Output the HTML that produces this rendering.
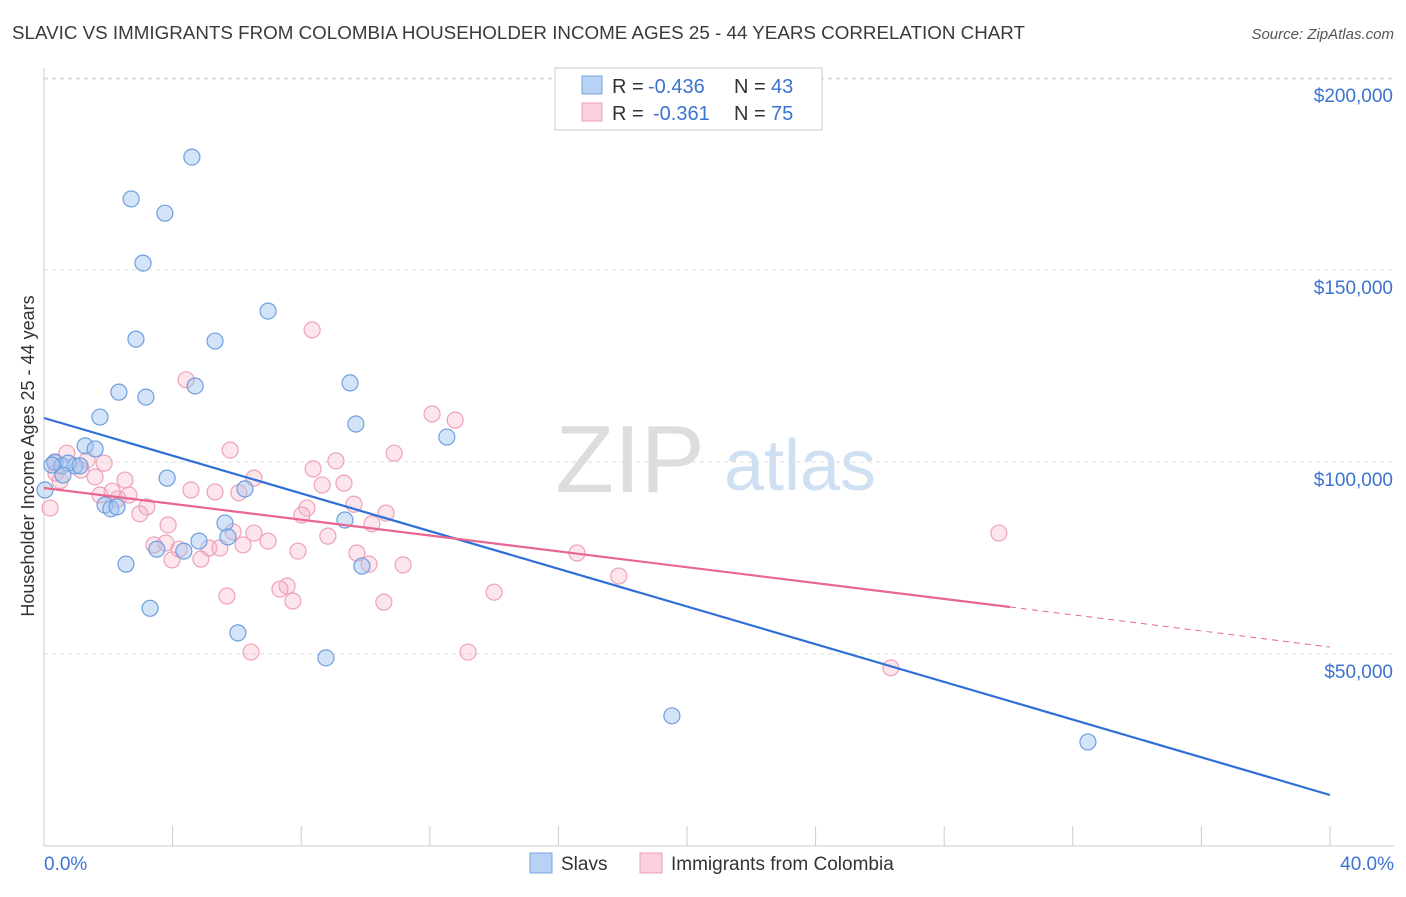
<!DOCTYPE html>
<html><head><meta charset="utf-8"><style>
body{margin:0;background:#fff;font-family:"Liberation Sans",sans-serif;}
svg text{font-family:"Liberation Sans",sans-serif;}
</style></head><body>
<svg id="c" width="1406" height="892">
<text x="12" y="39" font-size="18" fill="#3a3a3a" textLength="1013" lengthAdjust="spacingAndGlyphs">SLAVIC VS IMMIGRANTS FROM COLOMBIA HOUSEHOLDER INCOME AGES 25 - 44 YEARS CORRELATION CHART</text>
<text x="1394" y="39" font-size="15" fill="#555" text-anchor="end" font-style="italic">Source: ZipAtlas.com</text>
<text x="0" y="0" transform="translate(34,456) rotate(-90)" font-size="18" fill="#333" text-anchor="middle">Householder Income Ages 25 - 44 years</text>
<text x="630" y="492" font-size="96" fill="#ddd" font-family="Liberation Serif" text-anchor="middle">ZIP</text>
<text x="800" y="490" font-size="72" fill="#cfe0f3" text-anchor="middle">atlas</text>
<g id="axes"></g><g id="marks"></g>
<g>
<rect x="555" y="68" width="267" height="62" fill="#fff" stroke="#ccc"/>
<rect x="582" y="76" width="20" height="18" fill="#b7d2f5" stroke="#7aa6e0"/>
<text x="612" y="93" font-size="20" fill="#333">R =</text>
<text x="648" y="93" font-size="20" fill="#3b73d0">-0.436</text>
<text x="734" y="93" font-size="20" fill="#333">N =</text>
<text x="771" y="93" font-size="20" fill="#3b73d0">43</text>
<rect x="582" y="103" width="20" height="18" fill="#fbd0dc" stroke="#eaa0b6"/>
<text x="612" y="120" font-size="20" fill="#333">R =</text>
<text x="653" y="120" font-size="20" fill="#3b73d0">-0.361</text>
<text x="734" y="120" font-size="20" fill="#333">N =</text>
<text x="771" y="120" font-size="20" fill="#3b73d0">75</text>
</g>
<g>
<rect x="530" y="853" width="22" height="20" fill="#b7d2f5" stroke="#7aa6e0"/>
<text x="561" y="870" font-size="19" fill="#333">Slavs</text>
<rect x="640" y="853" width="22" height="20" fill="#fbd0dc" stroke="#eaa0b6"/>
<text x="671" y="870" font-size="19" fill="#333">Immigrants from Colombia</text>
</g>
</svg>
<script>
const yTicks=[50000,100000,150000,200000];
const yTickLabels=["$50,000","$100,000","$150,000","$200,000"];
const slavX=[4.60,2.71,3.76,3.08,6.97,2.86,5.32,9.52,4.70,2.33,3.17,9.70,12.53,1.74,1.28,1.59,0.34,0.56,0.96,0.25,0.75,1.12,0.59,3.83,6.25,1.90,2.08,2.27,5.63,9.36,5.72,4.82,3.51,4.35,2.55,9.89,3.30,6.03,8.77,19.53,32.47,0.03];
const slavY=[179400,168500,164800,151800,139300,132000,131500,120600,119800,118200,116900,109900,106500,111700,104200,103400,100000,99000,99000,99200,99700,99000,96600,95800,93000,88800,87800,88300,84100,84900,80500,79400,77300,76800,73400,72900,61900,55500,49000,33900,27100,92700];
const colX=[8.34,4.42,12.07,12.79,5.79,10.89,0.71,1.34,0.34,1.87,1.15,8.37,9.08,6.53,9.33,2.52,1.59,8.65,4.57,5.32,6.06,1.74,2.64,2.30,8.18,3.20,9.64,10.64,2.98,8.02,3.86,10.20,5.88,6.53,8.83,6.97,3.42,3.79,6.19,4.20,5.13,5.47,7.90,4.88,9.73,3.98,16.58,10.11,11.17,17.88,7.56,7.34,7.74,5.69,10.57,14.00,6.44,13.19,26.34,29.70,0.19,0.37,2.12,0.50];
const colY=[134400,121400,112500,110900,103100,102300,102300,100500,99700,99700,97900,98200,100300,95800,94500,95300,96100,94000,92700,92200,92000,91400,91400,90400,88000,88300,89000,86700,86500,86200,83600,83900,81800,81500,80700,79400,78400,78900,78400,77300,77600,77600,76800,74700,76300,74500,76300,73400,73200,70300,67700,66900,63800,65100,63500,66100,50500,50500,46400,81500,88000,97100,92400,95100];
const X=v=>44+v/40*1286, Y=v=>846-v/50000*192;
const ns="http://www.w3.org/2000/svg";
const axes=document.getElementById('axes'), marks=document.getElementById('marks');
function mk(p,tag,a){const e=document.createElementNS(ns,tag);for(const k in a)e.setAttribute(k,a[k]);p.appendChild(e);return e;}
yTicks.forEach((t,i)=>{
 const g=mk(axes,'line',{x1:44,x2:1394,y1:Y(t),y2:Y(t),stroke:'#ddd','stroke-dasharray':'4,4'});
 
 
 const l=mk(axes,'text',{x:1393,y:Y(t)+24,'font-size':19,fill:'#3b73d0','text-anchor':'end'});l.textContent=yTickLabels[i];
 
 
});
const tg=mk(axes,'line',{x1:44,x2:1394,y1:79,y2:79,stroke:'#ddd','stroke-dasharray':'4,4'});


mk(axes,'line',{x1:44,x2:44,y1:68,y2:846,stroke:'#ccc'});
mk(axes,'line',{x1:44,x2:1394,y1:846,y2:846,stroke:'#ccc'});
for(let i=0;i<=10;i++){const x=44+i*128.6;mk(axes,'line',{x1:x,x2:x,y1:826,y2:846,stroke:'#ccc'});}
const x0=mk(axes,'text',{x:44,y:870,'font-size':19,fill:'#3b73d0'});x0.textContent='0.0%';


const x1=mk(axes,'text',{x:1394,y:870,'font-size':19,fill:'#3b73d0','text-anchor':'end'});x1.textContent='40.0%';


colX.forEach((x,i)=>{const c=mk(marks,'circle',{cx:X(x),cy:Y(colY[i]),r:8,fill:'rgba(248,180,200,0.35)',stroke:'#eca2b9','stroke-width':1.2});
 
 });
slavX.forEach((x,i)=>{const c=mk(marks,'circle',{cx:X(x),cy:Y(slavY[i]),r:8,fill:'rgba(160,195,240,0.45)',stroke:'#6f9ede','stroke-width':1.2});
 
 });
const b=mk(marks,'line',{x1:44,y1:418,x2:1330,y2:795,stroke:'#2f6fd6','stroke-width':2.2});


const p=mk(marks,'line',{x1:44,y1:488,x2:1010,y2:607,stroke:'#e8668f','stroke-width':2.2});


const pd=mk(marks,'line',{x1:1010,y1:607,x2:1330,y2:647,stroke:'#e8668f','stroke-width':1,'stroke-dasharray':'6,5'});


</script>
</body></html>
